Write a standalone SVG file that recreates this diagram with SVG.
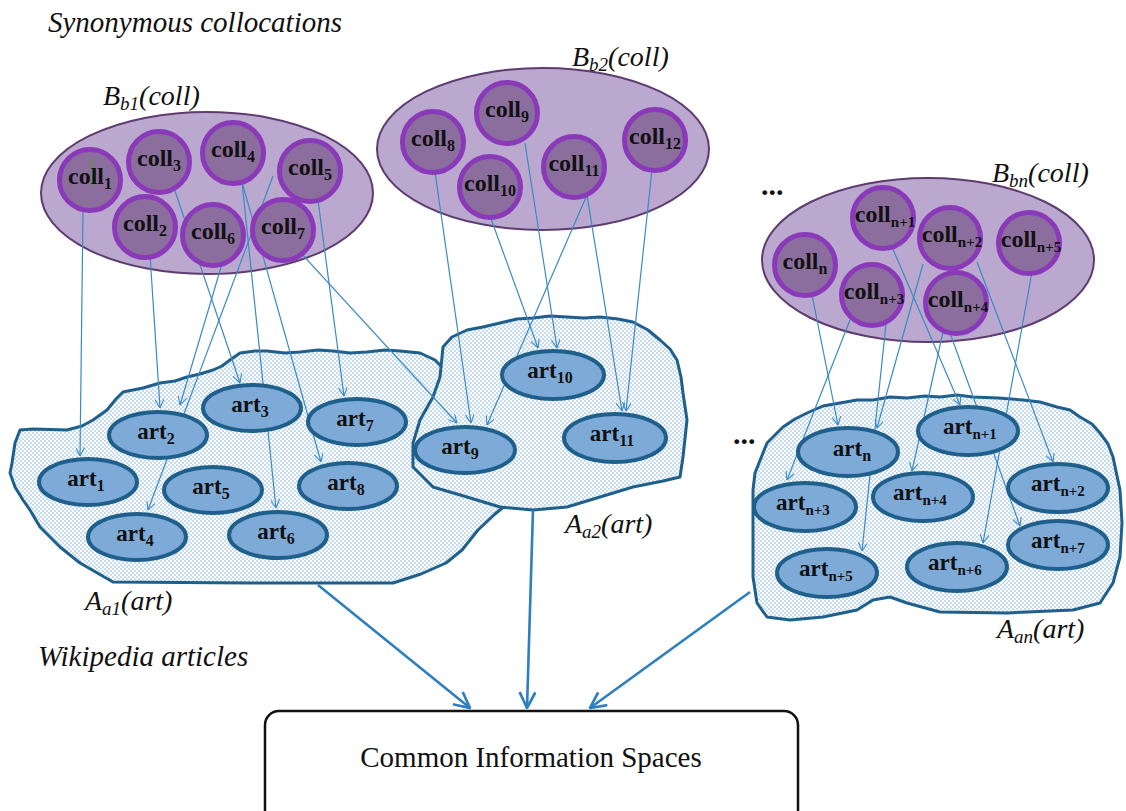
<svg xmlns="http://www.w3.org/2000/svg" width="1126" height="811" viewBox="0 0 1126 811">
  <defs>
    <pattern id="dots" width="4" height="4" patternUnits="userSpaceOnUse">
      <rect width="4" height="4" fill="#ffffff"/>
      <circle cx="1" cy="1" r="0.65" fill="#5d9bd2"/>
      <circle cx="3" cy="3" r="0.65" fill="#5d9bd2"/>
    </pattern>
    <marker id="tip" viewBox="0 0 10 10" refX="9.5" refY="5" markerWidth="9" markerHeight="9" markerUnits="userSpaceOnUse" orient="auto">
      <path d="M0,0 L9.5,5 L0,10" fill="none" stroke="#3b8ac4" stroke-width="1.2"/>
    </marker>
    <marker id="bigtip" viewBox="0 0 16 16" refX="15" refY="8" markerWidth="18" markerHeight="18" markerUnits="userSpaceOnUse" orient="auto">
      <path d="M1,1 L15,8 L1,15" fill="none" stroke="#2e7fbf" stroke-width="2.4"/>
    </marker>
  </defs>
  <style>
    .set { fill: #bba8cf; stroke: #5e3c70; stroke-width: 2; }
    .cloud { fill: url(#dots); stroke: #1f5f8b; stroke-width: 3; stroke-linejoin: round; }
    .coll { fill: #8b6e9e; stroke: #8a3ab9; stroke-width: 5; }
    .art { fill: #7eaad8; stroke: #1f5f8b; stroke-width: 4; }
    .link { fill: none; stroke: #3b8ac4; stroke-width: 1.2; marker-end: url(#tip); }
    .flow { fill: none; stroke: #2e7fbf; stroke-width: 2.6; marker-end: url(#bigtip); }
  </style>

  <!-- headings -->
  <g font-family="Liberation Serif, serif" font-size="29" font-style="italic" fill="#111">
    <text x="48" y="32">Synonymous collocations</text>
    <text x="38" y="666">Wikipedia articles</text>
  </g>

  <!-- collocation sets -->
  <g id="set-b1">
    <ellipse class="set" cx="207" cy="193" rx="166" ry="81"/>
  </g>
  <g id="set-b2">
    <ellipse class="set" cx="543" cy="149" rx="166" ry="81"/>
  </g>
  <g id="set-bn">
    <ellipse class="set" cx="928" cy="260" rx="166" ry="82"/>
  </g>

  <!-- article spaces -->
  <g id="space-a1">
    <path class="cloud" d="M20,430 L33,429 L67,430 L82,426 L93,420 L107,410 L116,399 L123,392 L143,388 L160,383 L175,381 L187,377 L200,374 L213,370 L222,366 L230,360 L240,353 L255,351 L267,351 L285,353 L300,352 L318,350 L333,351 L350,353 L367,352 L385,350 L400,351 L420,353 L435,360 L450,375 L480,420 L505,465 L512,500 L495,514 L478,530 L462,550 L446,563 L421,574 L393,583 L250,583 L113,582 L80,563 L60,547 L40,527 L30,510 L23,500 L15,487 L10,473 L12,463 L15,443 Z"/>
  </g>
  <g id="space-a2">
    <path class="cloud" d="M443,347 L452,337 L467,330 L483,327 L500,323 L517,319 L533,318 L550,316 L567,317 L584,318 L600,317 L618,319 L633,322 L648,330 L660,340 L670,349 L677,360 L681,377 L683,393 L687,420 L683,457 L680,477 L663,481 L633,487 L600,497 L567,507 L533,510 L500,507 L467,497 L433,487 L413,467 L413,443 L420,420 L433,397 L440,377 Z"/>
  </g>
  <g id="space-an">
    <path class="cloud" d="M753,490 L755,473 L767,443 L783,427 L795,419 L807,413 L823,406 L840,403 L857,400 L873,400 L890,397 L907,398 L925,396 L940,397 L957,395 L973,397 L998,398 L1023,400 L1040,402 L1057,407 L1070,410 L1080,417 L1092,424 L1100,433 L1108,444 L1113,457 L1120,490 L1122,523 L1120,557 L1113,583 L1100,603 L1073,610 L1007,613 L940,612 L907,603 L890,597 L873,600 L857,610 L823,617 L790,620 L767,617 L757,603 L753,577 L753,540 Z"/>
  </g>

  <!-- set labels -->
  <g font-family="Liberation Serif, serif" font-size="28" font-style="italic" fill="#111">
    <text x="103" y="105">B<tspan font-size="19" dy="5">b1</tspan><tspan dy="-5">(coll)</tspan></text>
    <text x="572" y="66">B<tspan font-size="19" dy="5">b2</tspan><tspan dy="-5">(coll)</tspan></text>
    <text x="992" y="182">B<tspan font-size="19" dy="5">bn</tspan><tspan dy="-5">(coll)</tspan></text>
    <text x="85" y="610">A<tspan font-size="19" dy="5">a1</tspan><tspan dy="-5">(art)</tspan></text>
    <text x="565" y="533">A<tspan font-size="19" dy="5">a2</tspan><tspan dy="-5">(art)</tspan></text>
    <text x="997" y="638">A<tspan font-size="19" dy="5">an</tspan><tspan dy="-5">(art)</tspan></text>
  </g>
  <g font-family="Liberation Serif, serif" font-size="30" font-weight="bold" fill="#111">
    <text x="761" y="195">...</text>
    <text x="733" y="444">...</text>
  </g>

  <!-- links from collocations to articles, and from article spaces to the common box -->
  <g id="connectors">
    <line class="link" x1="83" y1="210" x2="80" y2="456"/>
    <line class="link" x1="150" y1="255" x2="160" y2="408"/>
    <line class="link" x1="173" y1="185" x2="240" y2="383"/>
    <line class="link" x1="242" y1="182" x2="276" y2="508"/>
    <line class="link" x1="242" y1="182" x2="321" y2="462"/>
    <line class="link" x1="318" y1="200" x2="344" y2="396"/>
    <line class="link" x1="273" y1="176" x2="148" y2="510"/>
    <line class="link" x1="222" y1="264" x2="180" y2="405"/>
    <line class="link" x1="300" y1="252" x2="457" y2="423"/>

    <line class="link" x1="435" y1="172" x2="471" y2="423"/>
    <line class="link" x1="587" y1="195" x2="487" y2="425"/>
    <line class="link" x1="490" y1="216" x2="538" y2="348"/>
    <line class="link" x1="525" y1="143" x2="557" y2="348"/>
    <line class="link" x1="587" y1="195" x2="622" y2="411"/>
    <line class="link" x1="652" y1="170" x2="626" y2="411"/>

    <line class="link" x1="812" y1="295" x2="838" y2="425"/>
    <line class="link" x1="850" y1="320" x2="787" y2="480"/>
    <line class="link" x1="886" y1="324" x2="862" y2="551"/>
    <line class="link" x1="923" y1="264" x2="877" y2="428"/>
    <line class="link" x1="943" y1="332" x2="912" y2="471"/>
    <line class="link" x1="950" y1="333" x2="1020" y2="526"/>
    <line class="link" x1="1032" y1="272" x2="983" y2="543"/>
    <line class="link" x1="892" y1="247" x2="960" y2="405"/>
    <line class="link" x1="977" y1="262" x2="1053" y2="462"/>

    <line class="flow" x1="318" y1="585" x2="470" y2="708"/>
    <line class="flow" x1="533" y1="510" x2="527" y2="708"/>
    <line class="flow" x1="750" y1="592" x2="590" y2="708"/>
  </g>

  <!-- collocation nodes -->
  <g font-family="Liberation Serif, serif" font-size="24" font-weight="bold" text-anchor="middle" fill="#111">
  <g id="coll1"><circle class="coll" cx="90" cy="180" r="30.5"/><line x1="92" y1="158" x2="92" y2="188" stroke="#5a9a3a" stroke-width="1.5"/><text x="90" y="184">coll<tspan font-size="16" dy="5">1</tspan></text></g>
  <g id="coll2"><circle class="coll" cx="145" cy="227" r="30.5"/><text x="145" y="231">coll<tspan font-size="16" dy="5">2</tspan></text></g>
  <g id="coll3"><circle class="coll" cx="159" cy="162" r="30.5"/><text x="159" y="166">coll<tspan font-size="16" dy="5">3</tspan></text></g>
  <g id="coll4"><circle class="coll" cx="233" cy="153" r="30.5"/><text x="233" y="157">coll<tspan font-size="16" dy="5">4</tspan></text></g>
  <g id="coll5"><circle class="coll" cx="310" cy="171" r="30.5"/><text x="310" y="175">coll<tspan font-size="16" dy="5">5</tspan></text></g>
  <g id="coll6"><circle class="coll" cx="213" cy="235" r="30.5"/><text x="213" y="239">coll<tspan font-size="16" dy="5">6</tspan></text></g>
  <g id="coll7"><circle class="coll" cx="283" cy="230" r="30.5"/><text x="283" y="234">coll<tspan font-size="16" dy="5">7</tspan></text></g>

  <g id="coll8"><circle class="coll" cx="433" cy="142" r="30.5"/><text x="433" y="146">coll<tspan font-size="16" dy="5">8</tspan></text></g>
  <g id="coll9"><circle class="coll" cx="507" cy="113" r="30.5"/><text x="507" y="117">coll<tspan font-size="16" dy="5">9</tspan></text></g>
  <g id="coll10"><circle class="coll" cx="490" cy="187" r="30.5"/><text x="490" y="191">coll<tspan font-size="16" dy="5">10</tspan></text></g>
  <g id="coll11"><circle class="coll" cx="574" cy="167" r="30.5"/><text x="574" y="171">coll<tspan font-size="16" dy="5">11</tspan></text></g>
  <g id="coll12"><circle class="coll" cx="655" cy="140" r="30.5"/><text x="655" y="144">coll<tspan font-size="16" dy="5">12</tspan></text></g>

  <g id="colln"><circle class="coll" cx="805" cy="265" r="30.5"/><text x="805" y="269">coll<tspan font-size="16" dy="5">n</tspan></text></g>
  <g id="colln1"><circle class="coll" cx="883" cy="218" r="30.5"/><text x="885" y="222">coll<tspan font-size="15" dy="5">n+1</tspan></text></g>
  <g id="colln2"><circle class="coll" cx="950" cy="238" r="30.5"/><text x="952" y="242">coll<tspan font-size="15" dy="5">n+2</tspan></text></g>
  <g id="colln5"><circle class="coll" cx="1029" cy="243" r="30.5"/><text x="1031" y="247">coll<tspan font-size="15" dy="5">n+5</tspan></text></g>
  <g id="colln3"><circle class="coll" cx="872" cy="295" r="30.5"/><text x="874" y="299">coll<tspan font-size="15" dy="5">n+3</tspan></text></g>
  <g id="colln4"><circle class="coll" cx="956" cy="303" r="30.5"/><text x="958" y="307">coll<tspan font-size="15" dy="5">n+4</tspan></text></g>
  </g>

  <!-- article nodes -->
  <g font-family="Liberation Serif, serif" font-size="23" font-weight="bold" text-anchor="middle" fill="#111">
  <g id="art1"><ellipse class="art" cx="88" cy="482" rx="49" ry="23"/><text x="86" y="486">art<tspan font-size="16" dy="5">1</tspan></text></g>
  <g id="art2"><ellipse class="art" cx="158" cy="435" rx="49" ry="23"/><text x="156" y="439">art<tspan font-size="16" dy="5">2</tspan></text></g>
  <g id="art3"><ellipse class="art" cx="252" cy="408" rx="49" ry="23"/><text x="250" y="412">art<tspan font-size="16" dy="5">3</tspan></text></g>
  <g id="art4"><ellipse class="art" cx="137" cy="537" rx="49" ry="23"/><text x="135" y="541">art<tspan font-size="16" dy="5">4</tspan></text></g>
  <g id="art5"><ellipse class="art" cx="213" cy="490" rx="49" ry="23"/><text x="211" y="494">art<tspan font-size="16" dy="5">5</tspan></text></g>
  <g id="art6"><ellipse class="art" cx="278" cy="535" rx="49" ry="23"/><text x="276" y="539">art<tspan font-size="16" dy="5">6</tspan></text></g>
  <g id="art7"><ellipse class="art" cx="357" cy="422" rx="49" ry="23"/><text x="355" y="426">art<tspan font-size="16" dy="5">7</tspan></text></g>
  <g id="art8"><ellipse class="art" cx="348" cy="486" rx="49" ry="23"/><text x="346" y="490">art<tspan font-size="16" dy="5">8</tspan></text></g>

  <g id="art9"><ellipse class="art" cx="465" cy="450" rx="50" ry="23"/><text x="460" y="454">art<tspan font-size="16" dy="5">9</tspan></text></g>
  <g id="art10"><ellipse class="art" cx="553" cy="375" rx="51" ry="24"/><text x="550" y="378">art<tspan font-size="16" dy="5">10</tspan></text></g>
  <g id="art11"><ellipse class="art" cx="615" cy="438" rx="51" ry="24"/><text x="612" y="441">art<tspan font-size="16" dy="5">11</tspan></text></g>

  <g id="artn"><ellipse class="art" cx="848" cy="452" rx="50" ry="24"/><text x="852" y="456">art<tspan font-size="16" dy="5">n</tspan></text></g>
  <g id="artn1"><ellipse class="art" cx="968" cy="431" rx="50" ry="24"/><text x="970" y="434">art<tspan font-size="15" dy="5">n+1</tspan></text></g>
  <g id="artn2"><ellipse class="art" cx="1058" cy="488" rx="50" ry="24"/><text x="1058" y="491">art<tspan font-size="15" dy="5">n+2</tspan></text></g>
  <g id="artn3"><ellipse class="art" cx="805" cy="507" rx="51" ry="24"/><text x="803" y="510">art<tspan font-size="15" dy="5">n+3</tspan></text></g>
  <g id="artn4"><ellipse class="art" cx="923" cy="497" rx="50" ry="24"/><text x="920" y="500">art<tspan font-size="15" dy="5">n+4</tspan></text></g>
  <g id="artn5"><ellipse class="art" cx="827" cy="573" rx="50" ry="24"/><text x="826" y="576">art<tspan font-size="15" dy="5">n+5</tspan></text></g>
  <g id="artn6"><ellipse class="art" cx="957" cy="567" rx="50" ry="24"/><text x="955" y="570">art<tspan font-size="15" dy="5">n+6</tspan></text></g>
  <g id="artn7"><ellipse class="art" cx="1058" cy="545" rx="50" ry="24"/><text x="1058" y="548">art<tspan font-size="15" dy="5">n+7</tspan></text></g>
  </g>

  <!-- common information spaces -->
  <g id="common">
    <rect x="265" y="711" width="533" height="120" rx="14" fill="#ffffff" stroke="#111" stroke-width="2.5"/>
    <text x="531" y="767" text-anchor="middle" font-family="Liberation Serif, serif" font-size="29" fill="#111">Common Information Spaces</text>
  </g>
</svg>
